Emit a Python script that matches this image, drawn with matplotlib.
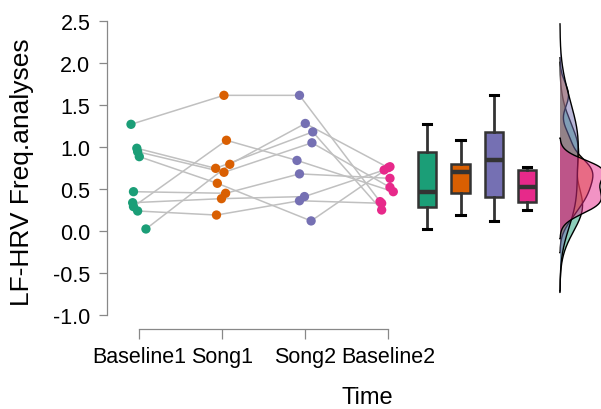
import numpy as np
import matplotlib
matplotlib.use("Agg")
import matplotlib.pyplot as plt

plt.rcParams['font.family'] = ['Liberation Sans', 'DejaVu Sans']

categories = ["Baseline1", "Song1", "Song2", "Baseline2"]
colors = ["#1B9E77", "#D95F02", "#7570B3", "#E7298A"]

baseline1 = [1.27, 0.985, 0.944, 0.885, 0.468, 0.337, 0.29, 0.238, 0.024]
song1     = [1.615, 0.746, 0.699, 0.568, 0.449, 0.385, 1.08, 0.19, 0.794]
song2     = [1.615, 1.18, 1.05, 0.12, 0.68, 0.41, 0.84, 0.36, 1.28]
baseline2 = [0.35, 0.25, 0.52, 0.765, 0.627, 0.726, 0.468, 0.33, 0.754]

# horizontal jitter of the points (in category units)
jit_b1 = [-0.10, -0.03, -0.02, 0.00, -0.07, -0.08, -0.07, -0.02, 0.08]
jit_s1 = [0.02, -0.08, 0.02, -0.06, 0.04, -0.01, 0.05, -0.07, 0.09]
jit_s2 = [-0.07, 0.09, 0.08, 0.07, -0.07, -0.01, -0.10, -0.07, 0.00]
jit_b2 = [-0.10, -0.08, 0.02, 0.02, 0.02, -0.05, 0.06, -0.08, 0.00]

groups = [baseline1, song1, song2, baseline2]
jitters = [jit_b1, jit_s1, jit_s2, jit_b2]

fig = plt.figure(figsize=(6.01, 4.10), dpi=100)
ax = fig.add_axes([107/601, 80/410, 494/601, 330/410])

px = 83.0
x0 = 1 + (107 - 139.3) / px
x1 = 1 + (601 - 139.3) / px
ax.set_xlim(x0, x1)
ax.set_ylim(-1.1667, 2.7619)

n = len(baseline1)
for i in range(n):
    xs = [k + 1 + jitters[k][i] for k in range(4)]
    ys = [groups[k][i] for k in range(4)]
    ax.plot(xs, ys, color="#C0C0C0", lw=1.1, zorder=1)

for k in range(4):
    xs = [k + 1 + j for j in jitters[k]]
    ax.scatter(xs, groups[k], s=45, color=colors[k], edgecolors='none', zorder=3)

box_pos = [4.47 + 0.4 * k for k in range(4)]
bp = ax.boxplot(groups, positions=box_pos, widths=0.22, patch_artist=True,
                showfliers=False, whis=1.5, manage_ticks=False,
                medianprops=dict(color="#333333", lw=3.2),
                whiskerprops=dict(color="#333333", lw=2.0),
                capprops=dict(color="black", lw=2.2),
                boxprops=dict(edgecolor="#333333", lw=1.8))
for patch, c in zip(bp['boxes'], colors):
    patch.set_facecolor(c)
for cap in bp['caps']:
    xd = cap.get_xdata()
    m = (xd[0] + xd[1]) / 2
    cap.set_xdata([m - 0.05, m + 0.05])

def kde(vals):
    v = np.asarray(vals, float)
    sd = v.std(ddof=1)
    q75, q25 = np.percentile(v, [75, 25])
    bw = 0.9 * min(sd, (q75 - q25) / 1.34) * len(v) ** (-0.2)
    grid = np.linspace(v.min() - 3 * bw, v.max() + 3 * bw, 400)
    d = np.exp(-0.5 * ((grid[:, None] - v[None, :]) / bw) ** 2).sum(1)
    d /= (len(v) * bw * np.sqrt(2 * np.pi))
    return grid, d

base = 1 + (560 - 139.3) / px
dens = [kde(g) for g in groups]
peak = max(d.max() for _, d in dens)
scale = 0.53 / peak
for (grid, d), c in zip(dens, colors):
    xs = np.concatenate([[base], base + d * scale, [base]])
    ys = np.concatenate([[grid[0]], grid, [grid[-1]]])
    ax.fill(xs, ys, facecolor=c, alpha=0.5, edgecolor='none', zorder=2)
    ax.plot(xs, ys, color="black", lw=1.0, zorder=2)

for s in ['top', 'right']:
    ax.spines[s].set_visible(False)
ax.spines['left'].set_bounds(-1.0, 2.5)
ax.spines['bottom'].set_bounds(1, 4)
for s in ['left', 'bottom']:
    ax.spines[s].set_color("#888888")
    ax.spines[s].set_linewidth(0.9)

yticks = [-1.0, -0.5, 0.0, 0.5, 1.0, 1.5, 2.0, 2.5]
ax.set_yticks(yticks)
ax.set_yticklabels([f"{t:.1f}" for t in yticks], fontsize=15.5)
ax.set_xticks([1, 2, 3, 4])
ax.set_xticklabels(categories, fontsize=15.5)
ax.tick_params(axis='y', length=6, width=0.9, color="#888888", pad=6)
ax.tick_params(axis='x', length=7.5, width=0.9, color="#888888", pad=5)

fig.text(22/601, 1 - 172/410, "LF-HRV Freq.analyses", rotation=90,
         ha='center', va='center', fontsize=19)
fig.text(367/601, 1 - 398/410, "Time", ha='center', va='center', fontsize=17)

fig.savefig("out.png", dpi=100)
